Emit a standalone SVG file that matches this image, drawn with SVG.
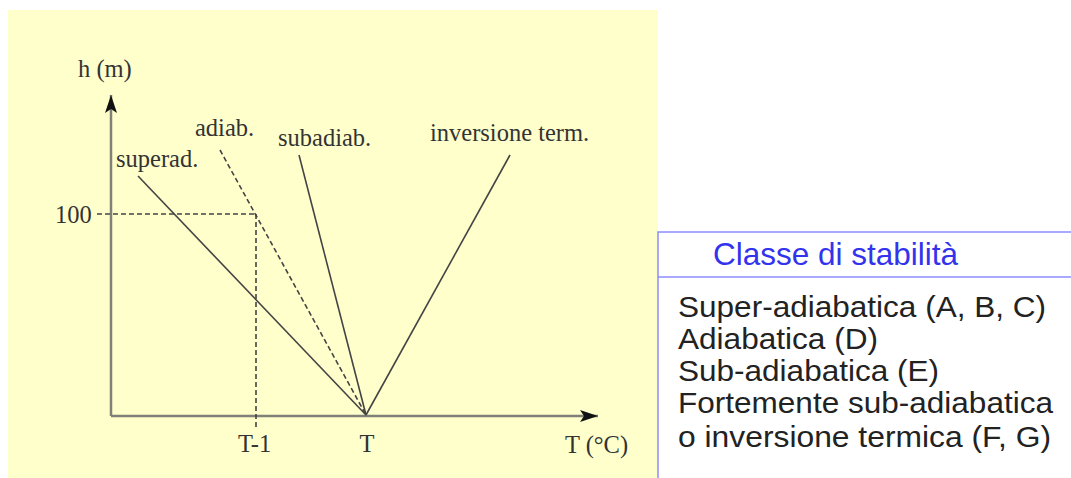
<svg xmlns="http://www.w3.org/2000/svg" width="1071" height="478" viewBox="0 0 1071 478">
<style>
.lbl{font-family:"Liberation Serif","Times New Roman",serif;font-size:24.5px;fill:#333}
.tbl{font-family:"Liberation Sans",Arial,sans-serif;font-size:29.5px;fill:#222}
.hdr{font-family:"Liberation Sans",Arial,sans-serif;font-size:31.5px;fill:#3333ee}
.axis{stroke:#808078;stroke-width:2.5;fill:none}
.ln{stroke:#444;stroke-width:1.6;fill:none}
.dash{stroke:#444;stroke-width:1.6;fill:none;stroke-dasharray:5 3}
</style>
<defs>
<marker id="ah" viewBox="0 0 18 12" refX="18" refY="6" markerWidth="18" markerHeight="12" markerUnits="userSpaceOnUse" orient="auto">
<path d="M0,0 L18,6 L0,12 L4,6 z" fill="#111"/>
</marker>
</defs>
<rect width="1071" height="478" fill="#ffffff"/>
<rect x="8" y="10" width="650" height="468" fill="#ffffcc"/>
<g id="axes">
<line class="axis" x1="111" y1="416" x2="111" y2="95" marker-end="url(#ah)"/>
<line class="axis" x1="111" y1="416" x2="598" y2="416" marker-end="url(#ah)"/>
</g>
<g id="connectors">
<line class="ln" x1="138" y1="176" x2="366" y2="415"/>
<line class="dash" x1="220" y1="150" x2="366" y2="415"/>
<line class="ln" x1="299" y1="155" x2="366" y2="415"/>
<line class="ln" x1="366" y1="415" x2="510" y2="155"/>
<line class="dash" x1="97" y1="214" x2="257" y2="214"/>
<line class="dash" x1="256" y1="214" x2="256" y2="430"/>
</g>
<g id="labels">
<text class="lbl" x="78" y="77">h (m)</text>
<text class="lbl" x="55" y="223">100</text>
<text class="lbl" x="116" y="167">superad.</text>
<text class="lbl" x="195" y="136">adiab.</text>
<text class="lbl" x="278" y="146">subadiab.</text>
<text class="lbl" x="430" y="141">inversione term.</text>
<text class="lbl" x="238" y="452">T-1</text>
<text class="lbl" x="367" y="452" text-anchor="middle">T</text>
<text class="lbl" x="565" y="453">T (°C)</text>
</g>
<g id="table">
<rect x="658" y="232" width="420" height="260" fill="#ffffff" stroke="#8c8cff" stroke-width="1.5"/>
<line x1="658" y1="277" x2="1071" y2="277" stroke="#8c8cff" stroke-width="1.5"/>
<text class="hdr" x="713" y="265">Classe di stabilità</text>
<text class="tbl" x="678" y="317" textLength="368" lengthAdjust="spacingAndGlyphs">Super-adiabatica (A, B, C)</text>
<text class="tbl" x="678" y="349" textLength="200" lengthAdjust="spacingAndGlyphs">Adiabatica (D)</text>
<text class="tbl" x="678" y="381" textLength="261" lengthAdjust="spacingAndGlyphs">Sub-adiabatica (E)</text>
<text class="tbl" x="678" y="413" textLength="375" lengthAdjust="spacingAndGlyphs">Fortemente sub-adiabatica</text>
<text class="tbl" x="678" y="447" textLength="373" lengthAdjust="spacingAndGlyphs">o inversione termica (F, G)</text>
</g>
</svg>
